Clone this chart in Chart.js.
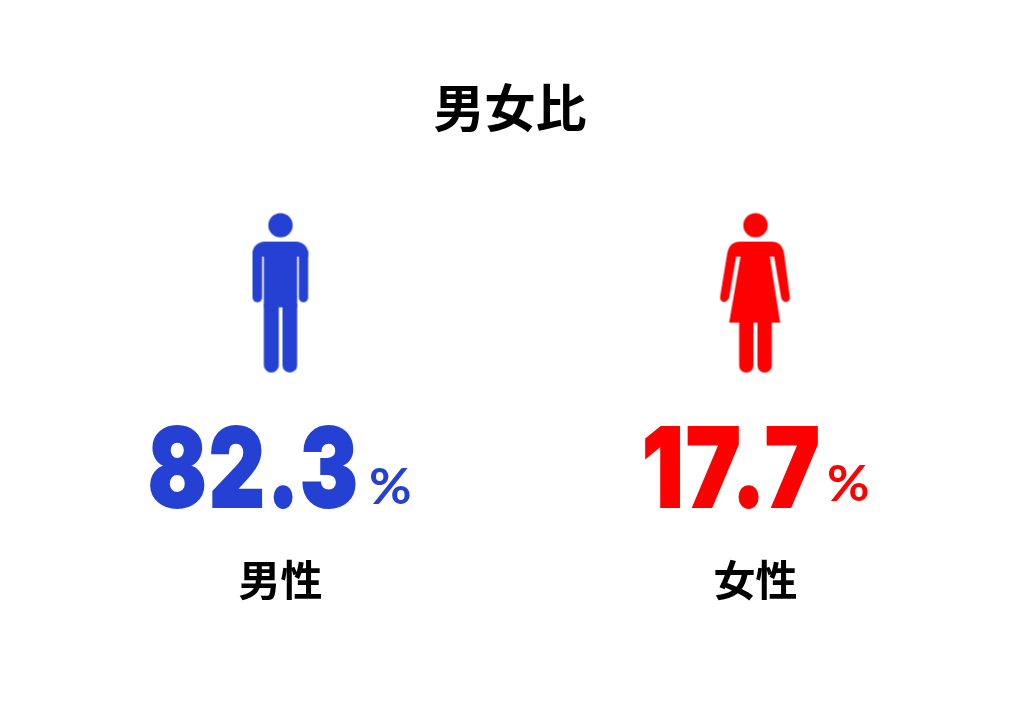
<!DOCTYPE html>
<html lang="ja"><head><meta charset="utf-8">
<script src="https://cdn.jsdelivr.net/npm/chart.js@4"></script>
<style>html,body{margin:0;padding:0;background:#fff}canvas{display:block}</style>
</head><body><canvas id="c" width="1017" height="711"></canvas>
<script>
const categories = ['男性', '女性'];
const shareValues = [82.3, 17.7];
const iconRow = [0, 0];
const seriesColors = ['#2441d3', '#ff0000'];
const titleText = '男女比';
const unitText = '%';

function figure(kind, color) {
  const c = document.createElement('canvas');
  c.width = 100; c.height = 180;
  const g = c.getContext('2d');
  g.fillStyle = color;
  const cx = kind === 0 ? 450 : 376;
  const X = v => 50 + (v - cx) / 3, Y = v => 90 + (v - 276) / 3;
  const rr = (x0, y0, x1, y1, r) => { g.beginPath(); g.roundRect(X(x0), Y(y0), (x1-x0)/3, (y1-y0)/3, r); g.fill(); };
  g.beginPath(); g.arc(X(cx), Y(74), 12.2, 0, Math.PI*2); g.fill();
  if (kind === 0) {
    rr(366,123,533,168,[12,12,0,0]);
    rr(366,150,395,305,[0,0,5,5]);
    rr(505,150,533,305,[0,0,5,5]);
    rr(400,150,500,320,0);
    rr(400,310,445,516,[0,0,7.5,7.5]);
    rr(456,310,500,516,[0,0,7.5,7.5]);
  } else {
    g.beginPath();
    g.moveTo(X(297),Y(366));
    g.lineTo(X(331),Y(168)); g.lineTo(X(318),Y(168)); g.lineTo(X(297),Y(292));
    g.quadraticCurveTo(X(290),Y(306),X(279),Y(304));
    g.quadraticCurveTo(X(268),Y(300),X(270),Y(288));
    g.lineTo(X(291),Y(160));
    g.quadraticCurveTo(X(297),Y(123),X(330),Y(123));
    g.lineTo(X(424),Y(123));
    g.quadraticCurveTo(X(456),Y(123),X(462),Y(160));
    g.lineTo(X(479),Y(288));
    g.quadraticCurveTo(X(481),Y(300),X(470),Y(304));
    g.quadraticCurveTo(X(458),Y(306),X(453),Y(292));
    g.lineTo(X(432),Y(168)); g.lineTo(X(419),Y(168)); g.lineTo(X(450),Y(366));
    g.closePath(); g.fill();
    rr(327,360,370,516,[0,0,7.5,7.5]);
    rr(382,360,425,516,[0,0,7.5,7.5]);
  }
  return c;
}

const shareLabels = {
  id: 'shareLabels',
  afterDatasetsDraw(chart) {
    const { ctx, scales } = chart;
    const dx = [-26.5, -23.5], ux = [88.5, 71.5], uy = [504, 501], targetW = [212, 180];
    const base = scales.y.getPixelForValue(0);
    shareValues.forEach((v, i) => {
      const cx = scales.x.getPixelForValue(i);
      ctx.save();
      ctx.fillStyle = seriesColors[i];
      ctx.strokeStyle = seriesColors[i];
      ctx.lineJoin = 'miter';
      ctx.lineWidth = 2;
      ctx.textAlign = 'center';
      ctx.textBaseline = 'alphabetic';
      ctx.letterSpacing = '3px';
      ctx.font = '900 110px Inter';
      const txt = v.toFixed(1);
      const w = ctx.measureText(txt).width;
      ctx.translate(cx + dx[i], base + 214);
      ctx.scale(targetW[i] / w, 1);
      ctx.fillText(txt, 0, 0);
      ctx.strokeText(txt, 0, 0);
      ctx.restore();
      ctx.save();
      ctx.fillStyle = seriesColors[i];
      ctx.textAlign = 'left';
      ctx.font = '700 49px Lato';
      ctx.translate(cx + ux[i], uy[i]);
      ctx.scale(1.06, 1);
      ctx.fillText(unitText, 0, 0);
      ctx.restore();
    });
  }
};

new Chart(document.getElementById('c'), {
  type: 'line',
  plugins: [shareLabels],
  data: {
    labels: categories,
    datasets: [
      { label: '人型', data: iconRow, yAxisID: 'y', showLine: false,
        pointStyle: seriesColors.map((col, i) => figure(i, col)), pointRadius: 1 },
      { label: '比率', data: shareValues, yAxisID: 'yShare', showLine: false, pointRadius: 0 }
    ]
  },
  options: {
    responsive: false, animation: false,
    layout: { autoPadding: false, padding: { left: 3, right: 0, top: 77, bottom: 106 } },
    plugins: {
      legend: { display: false }, tooltip: { enabled: false },
      title: { display: true, text: titleText, color: '#000',
        font: { family: '"Noto Sans CJK JP"', size: 51, weight: 'bold' }, padding: { top: 0, bottom: 40 } }
    },
    scales: {
      x: { type: 'category', offset: true, grid: { display: false }, border: { display: false },
        ticks: { color: '#000', font: { family: '"Noto Sans CJK JP"', size: 42, weight: 'bold' }, padding: 0 },
        afterFit(s) { s.paddingLeft = 0; s.paddingRight = 0; } },
      y: { position: 'left', min: -2.22, max: 1, grid: { display: false }, border: { display: false },
        ticks: { display: false }, afterFit(s) { s.width = 40; } },
      yShare: { position: 'right', min: 0, max: 100, grid: { display: false }, border: { display: false },
        ticks: { display: false }, afterFit(s) { s.width = 24; } }
    }
  }
});
</script></body></html>
